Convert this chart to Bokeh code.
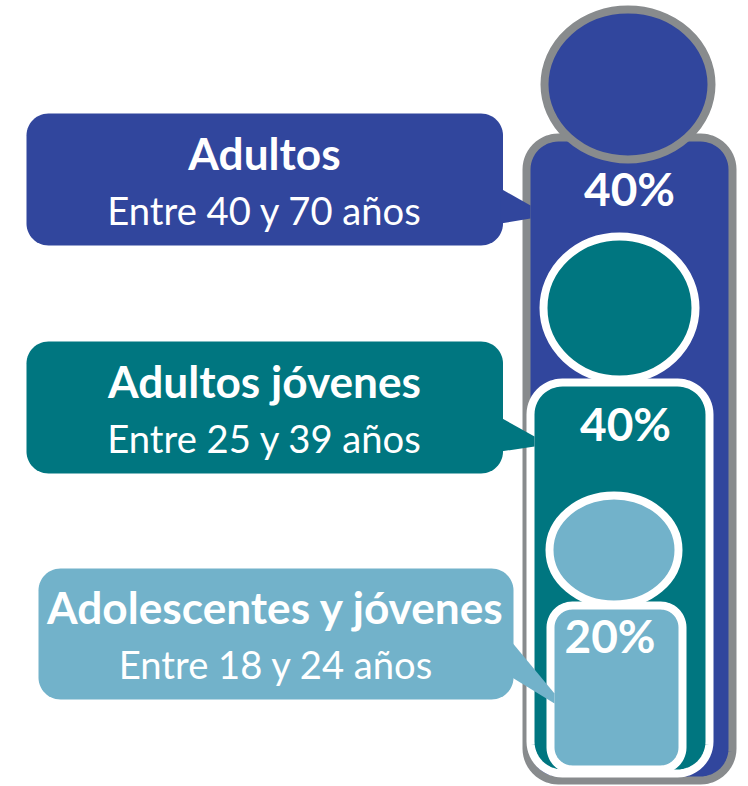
import math
from bokeh.plotting import figure
from bokeh.core.properties import value
from bokeh.embed import file_html
from bokeh.resources import INLINE

# --- content ---
groups = ["Adultos", "Adultos jóvenes", "Adolescentes y jóvenes"]
ages = ["Entre 40 y 70 años", "Entre 25 y 39 años", "Entre 18 y 24 años"]
shares = ["40%", "40%", "20%"]
colors = ["#31469D", "#007680", "#72B2CA"]
outlines = ["#888B8D", "#FFFFFF", "#FFFFFF"]

# --- layout (pixel space of the 748x786 picture) ---
bodies = [(526, 732, 137, 780, 32), (530, 709, 382, 773, 32), (550, 682, 605, 769, 22)]
heads = [(627.5, 84, 167, 150), (619, 307.5, 152, 143), (613.5, 549.5, 129, 109)]
boxes = [(26, 502.5, 113, 245, 22), (26, 502.5, 341, 473, 22), (38, 513, 568, 699, 22)]
tails = [
    ([500, 530, 530, 500], [188, 205, 218, 223]),
    ([500, 534, 534, 500], [417, 436, 446, 451]),
    ([510, 554, 554, 510], [640, 693, 703, 676]),
]
group_pos = [(264, 152), (264, 380), (275.5, 606)]
age_pos = [(264.5, 209), (264.5, 437), (276, 663)]
share_pos = [(629, 188), (625, 423), (609.5, 635)]
TITLE_SIZE = "44.2px"
AGE_SIZE = "38.2px"
SHARE_SIZE = "46px"
FONT = "Lato"


def rounded(l, r, t, b, rad, n=14):
    xs, ys = [], []
    corners = [(r - rad, t + rad, -90), (r - rad, b - rad, 0), (l + rad, b - rad, 90), (l + rad, t + rad, 180)]
    for cx, cy, start in corners:
        for i in range(n + 1):
            a = math.radians(start + 90 * i / n)
            xs.append(cx + rad * math.cos(a))
            ys.append(cy + rad * math.sin(a))
    return xs, ys


p = figure(width=748, height=786, x_range=(0, 748), y_range=(786, 0),
           toolbar_location=None, output_backend="svg", margin=(0, 0, 0, 0),
           min_border=0, outline_line_color=None, background_fill_color="white",
           border_fill_color="white")
p.axis.visible = False
p.grid.visible = False

for body, head, fill, edge in zip(bodies, heads, colors, outlines):
    xs, ys = rounded(*body)
    p.patch(xs, ys, fill_color=fill, line_color=edge, line_width=8)
    cx, cy, w, h = head
    p.ellipse(x=[cx], y=[cy], width=[w], height=[h], fill_color=fill, line_color=edge, line_width=8)

for box, tail, fill in zip(boxes, tails, colors):
    xs, ys = rounded(*box)
    p.patch(xs, ys, fill_color=fill, line_color=None)
    p.patch(tail[0], tail[1], fill_color=fill, line_color=None)


def label(pos, txt, size, style):
    p.text(x=[pos[0]], y=[pos[1]], text=[txt], text_color="white", text_align="center",
           text_baseline="alphabetic", text_font=value(FONT), text_font_size=size,
           text_font_style=style)


for i in range(3):
    label(group_pos[i], groups[i], TITLE_SIZE, "bold")
    label(age_pos[i], ages[i], AGE_SIZE, "normal")
    label(share_pos[i], shares[i], SHARE_SIZE, "bold")

open("out.html", "w").write(file_html(p, INLINE))
